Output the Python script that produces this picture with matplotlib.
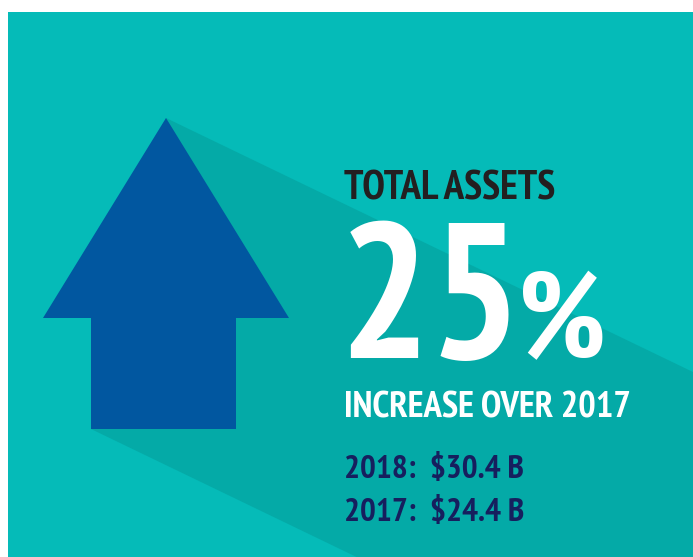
import matplotlib.pyplot as plt
from matplotlib.patches import Polygon, Rectangle

# data
title = 'TOTAL ASSETS'
pct_change = 25
subtitle = 'INCREASE OVER 2017'
years = ['2018', '2017']
assets_b = [30.4, 24.4]

teal = '#05bbb8'
shadow = '#04aaa7'
blue = '#0157a0'
navy = '#161f5e'
font = ['PT Sans Narrow', 'Fira Sans Condensed', 'DejaVu Sans']

fig = plt.figure(figsize=(6.93, 5.57), dpi=100)
ax = fig.add_axes([0, 0, 1, 1])
ax.set_xlim(0, 693)
ax.set_ylim(557, 0)
ax.axis('off')

# background panel
ax.add_patch(Rectangle((8, 12), 693 - 8, 557 - 12, color=teal, lw=0))

# long shadow of the arrow
slope = 0.482
tip = (166, 118)
foot = (91, 429)
ax.add_patch(Polygon([tip, (693, tip[1] + slope * (693 - tip[0])), (693, 557),
                      (foot[0] + (557 - foot[1]) / slope, 557), foot],
                     closed=True, color=shadow, lw=0))

# arrow
ax.add_patch(Polygon([tip, (289, 318), (236, 318), (236, 429), (91, 429),
                      (91, 318), (43, 318)], closed=True, color=blue, lw=0))

# texts
ax.text(344, 199, title, family=font, weight='bold', fontsize=29.5,
        color='#231f20', va='baseline')
ax.text(339, 358, str(pct_change), family=font, weight='bold', fontsize=138,
        color='white', va='baseline')
ax.text(518, 358, '%', family=font, weight='bold', fontsize=88,
        color='white', va='baseline')
ax.text(344, 418, subtitle, family=font, weight='bold', fontsize=26.5,
        color='white', va='baseline')
for i, (yr, v) in enumerate(zip(years, assets_b)):
    ax.text(344, 478 + i * 43.5, f'{yr}:  ${v:.1f} B', family=font,
            weight='bold', fontsize=24, color=navy, va='baseline')

fig.savefig('out.png', dpi=100, facecolor='white')
